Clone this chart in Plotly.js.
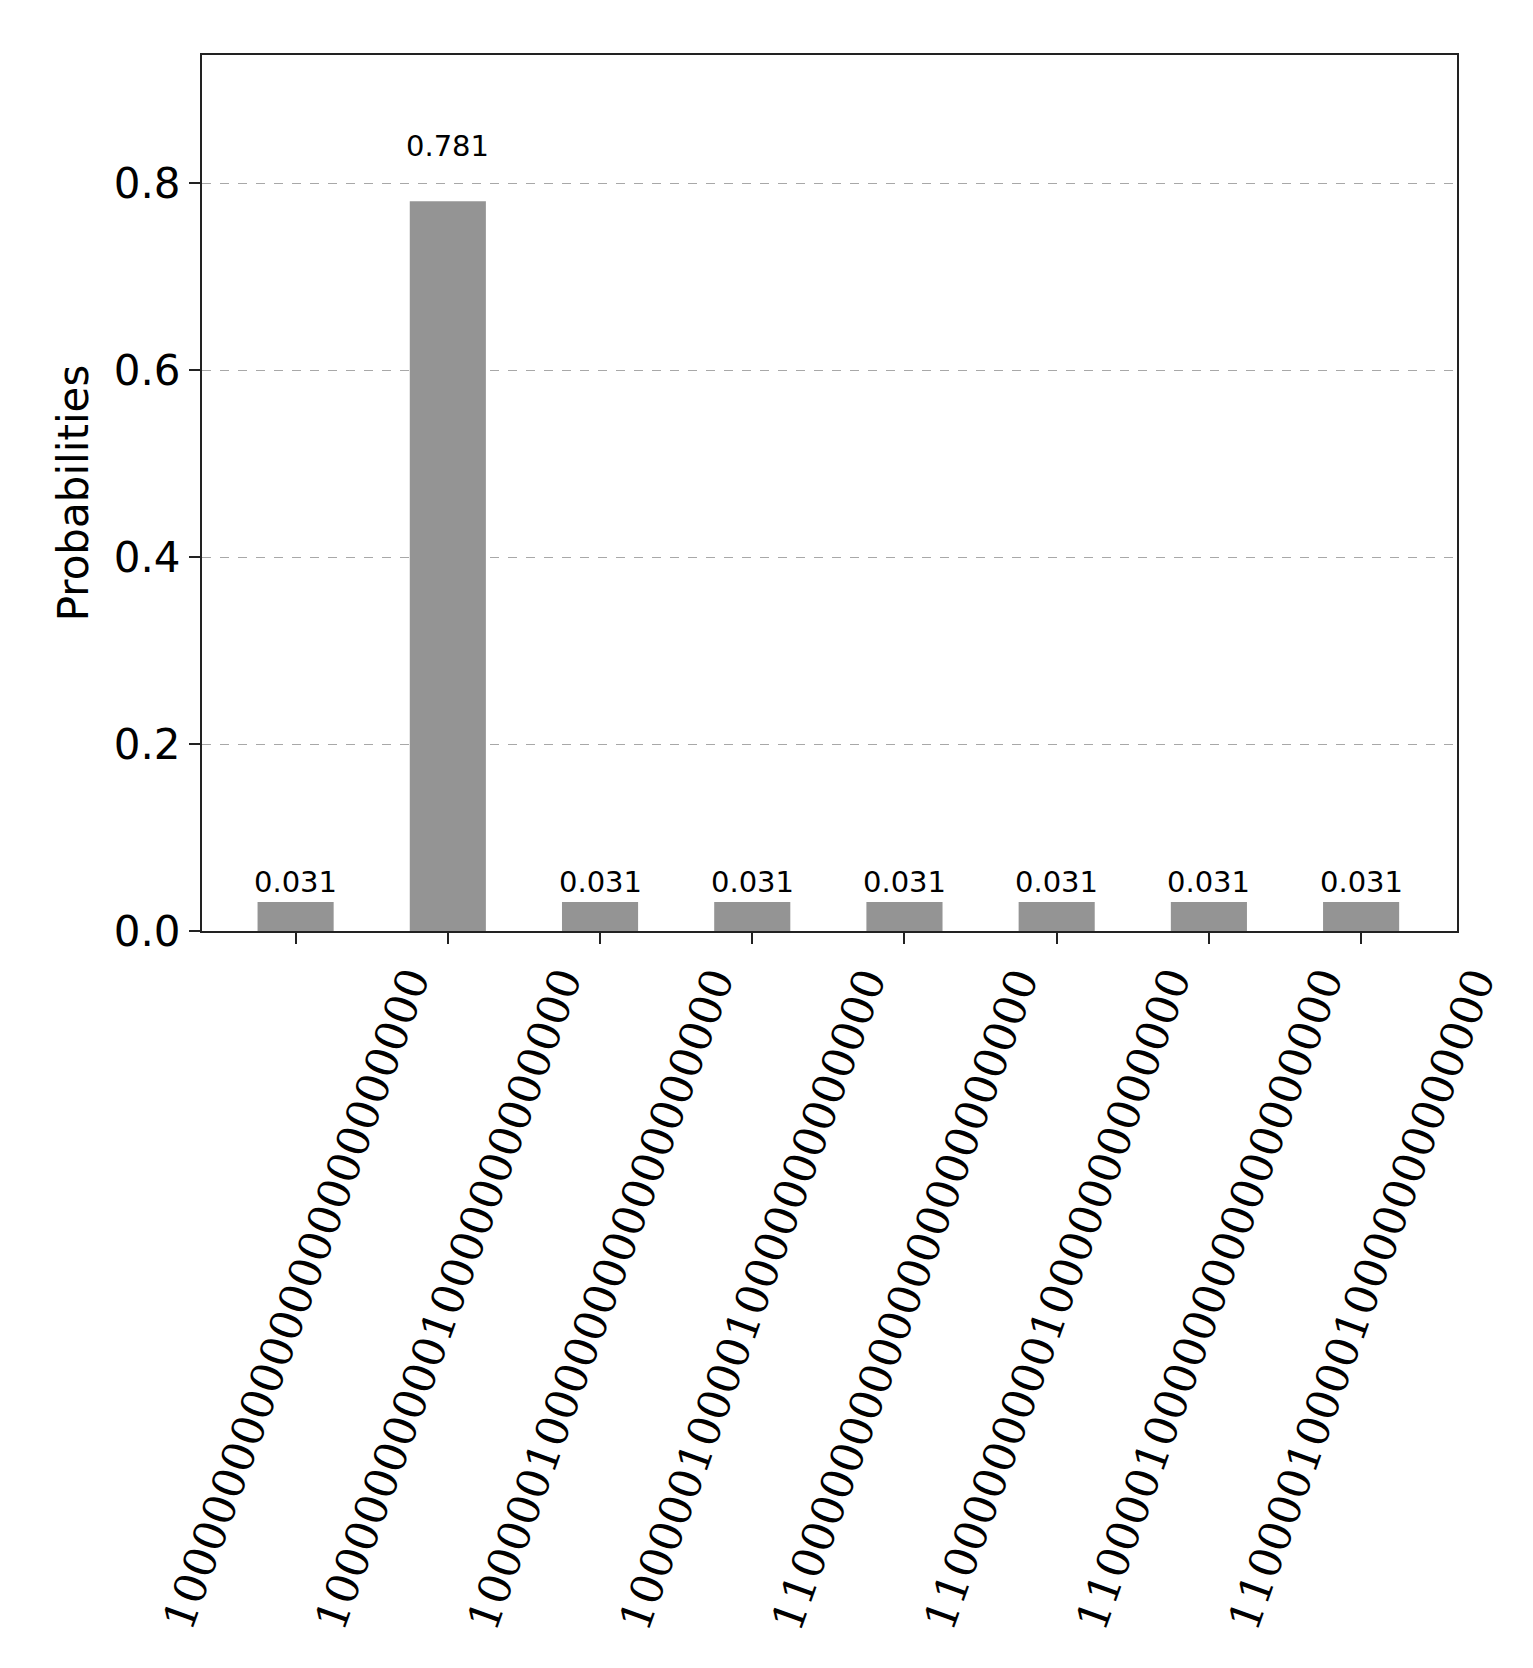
<!DOCTYPE html>
<html>
<head>
<meta charset="utf-8">
<script src="https://cdn.plot.ly/plotly-3.0.1.min.js"></script>
<style>
  body { margin: 0; background: #ffffff; }
</style>
</head>
<body>
<div id="histogram_chart"></div>
<script>
// measured basis states (x categories)
const states = [
    '1000000000000000000000000',
    '1000000000010000000000000',
    '1000001000000000000000000',
    '1000001000010000000000000',
    '1100000000000000000000000',
    '1100000000010000000000000',
    '1100001000000000000000000',
    '1100001000010000000000000'
];
const probabilities = [0.031, 0.781, 0.031, 0.031, 0.031, 0.031, 0.031, 0.031];
const y_ticks = [0, 0.2, 0.4, 0.6, 0.8];
const y_tick_labels = ['0.0', '0.2', '0.4', '0.6', '0.8'];

document.addEventListener("DOMContentLoaded", () => {
    build_histogram();
})

const build_histogram = () => {
    const histogram_chart = document.querySelector("#histogram_chart");
    var data = [{
        x: states,
        y: probabilities,
        type: 'bar',
        width: 0.5,
        marker: {color: '#949494'},
        hoverinfo: 'skip'
    }];

    // value labels sit at 1.05 x bar height, like the matplotlib original
    var value_labels = probabilities.map((p, i) => ({
        x: i, xref: 'x',
        y: p * 1.05, yref: 'y',
        text: p.toFixed(3),
        showarrow: false,
        xanchor: 'center',
        yanchor: 'bottom',
        font: {family: 'DejaVu Sans', size: 29, color: '#000000'}
    }));

    // rotated state labels, centred under each tick
    var state_labels = states.map((s, i) => ({
        x: i, xref: 'x',
        y: 0, yref: 'paper',
        yshift: -28,
        text: s,
        showarrow: false,
        textangle: -70,
        xanchor: 'center',
        yanchor: 'top',
        font: {family: 'DejaVu Serif', size: 44, color: '#000000'}
    }));

    var layout = {
        width: 1533,
        height: 1668,
        margin: {l: 202, r: 76, t: 55, b: 737},
        paper_bgcolor: '#ffffff',
        plot_bgcolor: '#ffffff',
        showlegend: false,
        xaxis: {
            type: 'category',
            range: [-0.615, 7.63],
            showticklabels: false,
            ticks: 'outside',
            ticklen: 11,
            tickwidth: 2,
            tickcolor: '#222222',
            showline: true,
            linecolor: '#222222',
            linewidth: 2,
            mirror: true,
            showgrid: false,
            zeroline: false
        },
        yaxis: {
            range: [0, 0.9375],
            tickvals: y_ticks,
            ticktext: y_tick_labels,
            ticks: 'outside',
            ticklen: 11,
            tickwidth: 2,
            tickcolor: '#222222',
            showline: true,
            linecolor: '#222222',
            linewidth: 2,
            mirror: true,
            showgrid: true,
            gridcolor: '#a8a8a8',
            gridwidth: 1,
            griddash: 'dash',
            zeroline: false,
            tickfont: {family: 'DejaVu Sans', size: 42, color: '#000000'},
            title: {
                text: 'Probabilities',
                font: {family: 'DejaVu Sans', size: 42, color: '#000000'},
                standoff: 12
            }
        },
        annotations: value_labels.concat(state_labels)
    };

    Plotly.newPlot(histogram_chart, data, layout, {staticPlot: true});
}
</script>
</body>
</html>
